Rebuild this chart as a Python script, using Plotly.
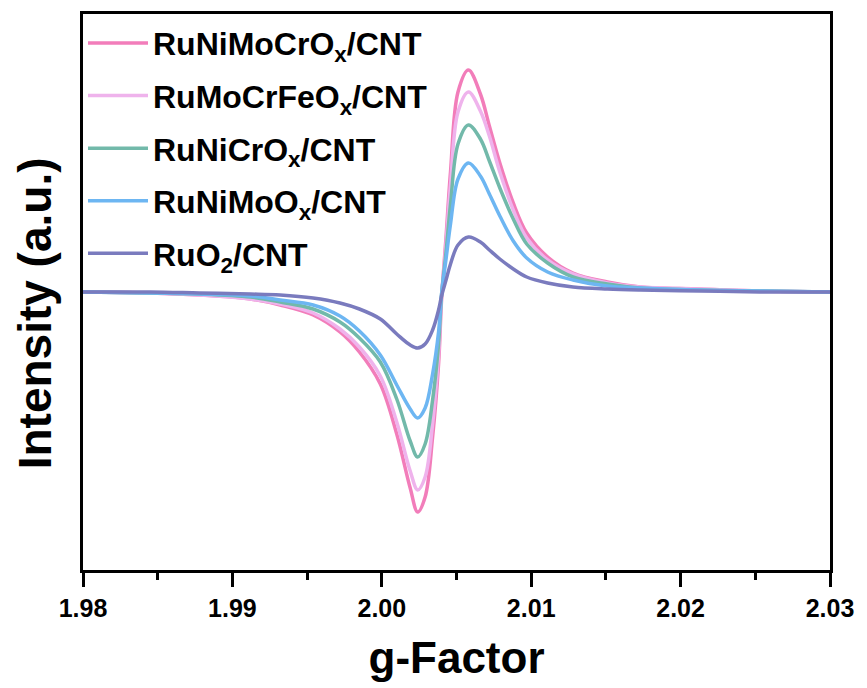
import plotly.graph_objects as go

# g-factor sample positions
g_factor = [1.9800, 1.9845, 1.9878, 1.9912, 1.9932, 1.9954, 1.9972, 1.9985, 1.9999,
            2.0010, 2.0019, 2.0024, 2.0029, 2.0034, 2.0038, 2.0040, 2.0043, 2.0046,
            2.0051, 2.0058, 2.0066, 2.0072, 2.0079, 2.0088, 2.0097, 2.0111, 2.0128,
            2.0151, 2.0173, 2.0213, 2.0253, 2.0300]

ruNiMoCrOx = [0, -1, -3, -7, -13, -23, -40, -60, -92, -142, -196, -220, -205, -145, -72, -8,
              55, 120, 200, 222, 198, 166, 129, 89, 59, 35, 19, 10, 5, 3, 1, 0]
ruMoCrFeOx = [0, -1, -3, -7, -12, -21, -37, -55, -84, -130, -179, -198, -185, -132, -62, -4,
              48, 107, 180, 200, 181, 156, 120, 82, 54, 32, 18, 9, 5, 3, 1, 0]
ruNiCrOx = [0, -1, -2, -5, -10, -17, -30, -46, -70, -107, -149, -165, -152, -108, -52, -3,
            40, 88, 148, 167, 153, 131, 104, 73, 48, 29, 15, 8, 4, 2, 1, 0]
ruNiMoOx = [0, -1, -2, -4, -8, -13, -24, -39, -63, -93, -117, -126, -116, -82, -40, -2,
            33, 68, 113, 129, 116, 98, 76, 51, 34, 20, 12, 6, 4, 2, 1, 0]
ruO2 = [0, 0, -1, -2, -3, -6, -11, -17, -27, -42, -53, -56, -52, -38, -18, -4,
        12, 28, 47, 55, 50, 42, 33, 23, 15, 9, 5, 3, 2, 1, 0, 0]

names = ["<b>RuNiMoCrO<sub>x</sub>/CNT</b>", "<b>RuMoCrFeO<sub>x</sub>/CNT</b>",
         "<b>RuNiCrO<sub>x</sub>/CNT</b>", "<b>RuNiMoO<sub>x</sub>/CNT</b>",
         "<b>RuO<sub>2</sub>/CNT</b>"]
series = [ruNiMoCrOx, ruMoCrFeOx, ruNiCrOx, ruNiMoOx, ruO2]
colors = ["#F27DBA", "#EFB3EC", "#72B9AA", "#6DB6F2", "#7A7BBE"]

x_ticks = [1.98, 1.99, 2.00, 2.01, 2.02, 2.03]
x_tick_text = ["1.98", "1.99", "2.00", "2.01", "2.02", "2.03"]

FONT = "Liberation Sans, Arial, sans-serif"

fig = go.Figure()
for i, (nm, ys, c) in enumerate(zip(names, series, colors)):
    fig.add_trace(go.Scatter(x=g_factor, y=ys, mode="lines", name=nm, legendgroup=f"g{i}",
                             line=dict(color=c, width=3.5, shape="spline", smoothing=1.0)))

fig.update_layout(
    width=867, height=688,
    margin=dict(l=83, r=37, t=14, b=118),
    paper_bgcolor="white", plot_bgcolor="white",
    font=dict(family=FONT, color="black"),
    showlegend=True,
    legend=dict(x=0.0, y=0.997, xanchor="left", yanchor="top",
                bgcolor="rgba(0,0,0,0)", borderwidth=0,
                font=dict(family=FONT, size=32, color="black"),
                itemwidth=60, tracegroupgap=8),
    annotations=[dict(text="<b>Intensity (a.u.)</b>", textangle=-90,
                      xref="paper", yref="paper", x=-0.064, y=0.462,
                      xanchor="center", yanchor="middle", showarrow=False,
                      font=dict(family=FONT, size=46, color="black"))],
)
fig.update_xaxes(
    range=[1.98, 2.03], tickvals=x_ticks, ticktext=x_tick_text,
    showline=True, linecolor="black", linewidth=3, mirror=True,
    ticks="outside", ticklen=14, tickwidth=3, tickcolor="black",
    minor=dict(dtick=0.005, tick0=1.98, ticks="outside", ticklen=7, tickwidth=3, tickcolor="black"),
    showgrid=False, zeroline=False,
    tickfont=dict(family=FONT, size=25, color="black", weight="bold"),
    title=dict(text="<b>g-Factor</b>", font=dict(family=FONT, size=44, color="black"), standoff=22),
)
fig.update_yaxes(
    range=[-278, 278], showticklabels=False, ticks="",
    showline=True, linecolor="black", linewidth=3, mirror=True,
    showgrid=False, zeroline=False,
)

fig.write_html("out.html")
